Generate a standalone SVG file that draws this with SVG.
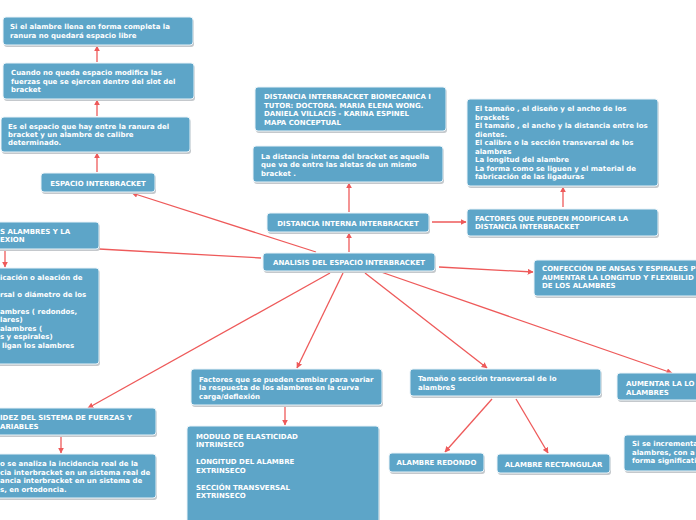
<svg xmlns="http://www.w3.org/2000/svg" width="696" height="520" viewBox="0 0 696 520">
<defs>
<marker id="ah" viewBox="0 0 10 10" refX="9" refY="5" markerWidth="6" markerHeight="6" orient="auto" markerUnits="userSpaceOnUse">
<path d="M0,0 L10,5 L0,10 z" fill="#ee5a5a"/>
</marker>
<style>
.bx{fill:#5da5c8;stroke:#eaf3f8;stroke-width:1}
.sh{fill:#c4c8cc}
text{font-family:"DejaVu Sans","Verdana",sans-serif;font-weight:bold;font-size:7px;fill:#ffffff}
.c{text-anchor:middle}
.ln{stroke:#ee5a5a;stroke-width:1.3;fill:none}
</style>
</defs>
<rect width="696" height="520" fill="#ffffff"/>

<g id="connectors">
<line class="ln" x1="97" y1="62" x2="97" y2="46" marker-end="url(#ah)"/>
<line class="ln" x1="97" y1="116" x2="97" y2="100" marker-end="url(#ah)"/>
<line class="ln" x1="97" y1="172" x2="97" y2="153" marker-end="url(#ah)"/>
<line class="ln" x1="316" y1="252" x2="132" y2="193" marker-end="url(#ah)"/>
<line class="ln" x1="261" y1="258" x2="99" y2="249"/>
<line class="ln" x1="5" y1="250" x2="5" y2="267" marker-end="url(#ah)"/>
<line class="ln" x1="330" y1="273" x2="88" y2="408" marker-end="url(#ah)"/>
<line class="ln" x1="61" y1="436" x2="61" y2="453" marker-end="url(#ah)"/>
<line class="ln" x1="343" y1="273" x2="297" y2="368" marker-end="url(#ah)"/>
<line class="ln" x1="285" y1="407" x2="285" y2="425" marker-end="url(#ah)"/>
<line class="ln" x1="365" y1="273" x2="487" y2="368" marker-end="url(#ah)"/>
<line class="ln" x1="381" y1="272" x2="672" y2="373" marker-end="url(#ah)"/>
<line class="ln" x1="492" y1="399" x2="445" y2="452" marker-end="url(#ah)"/>
<line class="ln" x1="516" y1="399" x2="548" y2="453" marker-end="url(#ah)"/>
<line class="ln" x1="439" y1="267" x2="533" y2="272" marker-end="url(#ah)"/>
<line class="ln" x1="349" y1="252" x2="349" y2="233" marker-end="url(#ah)"/>
<line class="ln" x1="349" y1="212" x2="349" y2="183" marker-end="url(#ah)"/>
<line class="ln" x1="432" y1="222" x2="466" y2="222" marker-end="url(#ah)"/>
<line class="ln" x1="563" y1="207" x2="563" y2="187" marker-end="url(#ah)"/>
</g>

<g id="n1">
<rect class="sh" x="4" y="19" width="190" height="28" rx="3"/>
<rect class="bx" x="3" y="17" width="190" height="28" rx="3"/>
<text x="10" y="29">Si el alambre llena en forma completa la</text>
<text x="10" y="38">ranura no quedará espacio libre</text>
</g>

<g id="n2">
<rect class="sh" x="4" y="65" width="191" height="36" rx="3"/>
<rect class="bx" x="3" y="63" width="191" height="36" rx="3"/>
<text x="11" y="75">Cuando no queda espacio modifica las</text>
<text x="11" y="84">fuerzas que se ejercen dentro del slot del</text>
<text x="11" y="92">bracket</text>
</g>

<g id="n3">
<rect class="sh" x="2" y="119" width="189" height="35" rx="3"/>
<rect class="bx" x="1" y="117" width="189" height="35" rx="3"/>
<text x="8" y="129">Es el espacio que hay entre la ranura del</text>
<text x="8" y="137">bracket y un alambre de calibre</text>
<text x="8" y="145">determinado.</text>
</g>

<g id="n4">
<rect class="sh" x="42" y="175" width="114" height="19" rx="3"/>
<rect class="bx" x="41" y="173" width="114" height="19" rx="3"/>
<text class="c" x="98" y="185.5">ESPACIO INTERBRACKET</text>
</g>

<g id="n5">
<rect class="sh" x="-9" y="224" width="109" height="27" rx="3"/>
<rect class="bx" x="-10" y="222" width="109" height="27" rx="3"/>
<text x="0" y="233.5">S ALAMBRES Y LA</text>
<text x="0" y="242">EXION</text>
</g>

<g id="n6">
<rect class="sh" x="-9" y="270" width="109" height="96" rx="3"/>
<rect class="bx" x="-10" y="268" width="109" height="96" rx="3"/>
<text x="0" y="280">icación o aleación de</text>
<text x="0" y="297">rsal o diámetro de los</text>
<text x="0" y="314">ambres ( redondos,</text>
<text x="0" y="322">lares)</text>
<text x="0" y="331">alambres (</text>
<text x="0" y="339">s y espirales)</text>
<text x="2" y="348">ligan los alambres</text>
</g>

<g id="n7">
<rect class="sh" x="-9" y="410" width="166" height="27" rx="3"/>
<rect class="bx" x="-10" y="408" width="166" height="27" rx="3"/>
<text x="0" y="420">IDEZ DEL SISTEMA DE FUERZAS Y</text>
<text x="0" y="428.5">ARIABLES</text>
</g>

<g id="n8">
<rect class="sh" x="-9" y="456" width="166" height="44" rx="3"/>
<rect class="bx" x="-10" y="454" width="166" height="44" rx="3"/>
<text x="0" y="466">o se analiza la incidencia real de la</text>
<text x="0" y="474.5">cia interbracket en un sistema real de</text>
<text x="0" y="483">ancia interbracket en un sistema de</text>
<text x="0" y="491.5">s, en ortodoncia.</text>
</g>

<g id="n9">
<rect class="sh" x="256" y="89" width="191" height="44" rx="3"/>
<rect class="bx" x="255" y="87" width="191" height="44" rx="3"/>
<text x="264" y="99">DISTANCIA INTERBRACKET BIOMECANICA I</text>
<text x="264" y="107.5">TUTOR: DOCTORA. MARIA ELENA WONG.</text>
<text x="264" y="116">DANIELA VILLACIS - KARINA ESPINEL</text>
<text x="264" y="124.5">MAPA CONCEPTUAL</text>
</g>

<g id="n10">
<rect class="sh" x="254" y="148" width="190" height="36" rx="3"/>
<rect class="bx" x="253" y="146" width="190" height="36" rx="3"/>
<text x="261" y="158.5">La distancia interna del bracket es aquella</text>
<text x="261" y="167">que va de entre las aletas de un mismo</text>
<text x="261" y="175.5">bracket .</text>
</g>

<g id="n11">
<rect class="sh" x="468" y="101" width="191" height="87" rx="3"/>
<rect class="bx" x="467" y="99" width="191" height="87" rx="3"/>
<text x="475" y="111">El tamaño , el diseño y el ancho de los</text>
<text x="475" y="119.5">brackets</text>
<text x="475" y="128">El tamaño , el ancho y la distancia entre los</text>
<text x="475" y="136.5">dientes.</text>
<text x="475" y="145">El calibre o la sección transversal de los</text>
<text x="475" y="153.5">alambres</text>
<text x="475" y="162">La longitud del alambre</text>
<text x="475" y="170.5">La forma como se liguen y el material de</text>
<text x="475" y="179">fabricación de las ligaduras</text>
</g>

<g id="n12">
<rect class="sh" x="268" y="215" width="162" height="19" rx="3"/>
<rect class="bx" x="267" y="213" width="162" height="19" rx="3"/>
<text class="c" x="348" y="225.5">DISTANCIA INTERNA INTERBRACKET</text>
</g>

<g id="n13">
<rect class="sh" x="468" y="211" width="191" height="27" rx="3"/>
<rect class="bx" x="467" y="209" width="191" height="27" rx="3"/>
<text x="475" y="220.5">FACTORES QUE PUEDEN MODIFICAR LA</text>
<text x="475" y="229">DISTANCIA INTERBRACKET</text>
</g>

<g id="n14">
<rect class="sh" x="264" y="255" width="172" height="18" rx="3"/>
<rect class="bx" x="263" y="253" width="172" height="18" rx="3"/>
<text class="c" x="349" y="264.5">ANALISIS DEL ESPACIO INTERBRACKET</text>
</g>

<g id="n15">
<rect class="sh" x="535" y="262" width="170" height="36" rx="3"/>
<rect class="bx" x="534" y="260" width="170" height="36" rx="3"/>
<text x="542" y="271">CONFECCIÓN DE ANSAS Y ESPIRALES P</text>
<text x="542" y="279.5">AUMENTAR LA LONGITUD Y FLEXIBILID</text>
<text x="542" y="288">DE LOS ALAMBRES</text>
</g>

<g id="n16">
<rect class="sh" x="192" y="371" width="191" height="36" rx="3"/>
<rect class="bx" x="191" y="369" width="191" height="36" rx="3"/>
<text x="199" y="381.5">Factores que se pueden cambiar para variar</text>
<text x="199" y="390">la respuesta de los alambres en la curva</text>
<text x="199" y="398.5">carga/deflexión</text>
</g>

<g id="n17">
<rect class="sh" x="188" y="428" width="192" height="100" rx="3"/>
<rect class="bx" x="187" y="426" width="192" height="100" rx="3"/>
<text x="196" y="439">MODULO DE ELASTICIDAD</text>
<text x="196" y="447">INTRINSECO</text>
<text x="196" y="464">LONGITUD DEL ALAMBRE</text>
<text x="196" y="472.5">EXTRINSECO</text>
<text x="196" y="490">SECCIÓN TRANSVERSAL</text>
<text x="196" y="498">EXTRINSECO</text>
</g>

<g id="n18">
<rect class="sh" x="411" y="371" width="191" height="27" rx="3"/>
<rect class="bx" x="410" y="369" width="191" height="27" rx="3"/>
<text x="418" y="381">Tamaño o sección transversal de lo</text>
<text x="418" y="390">alambreS</text>
</g>

<g id="n19">
<rect class="sh" x="390" y="455" width="95" height="19" rx="3"/>
<rect class="bx" x="389" y="453" width="95" height="19" rx="3"/>
<text class="c" x="436.5" y="465">ALAMBRE REDONDO</text>
</g>

<g id="n20">
<rect class="sh" x="498" y="456" width="113" height="19" rx="3"/>
<rect class="bx" x="497" y="454" width="113" height="19" rx="3"/>
<text class="c" x="553.5" y="466.5">ALAMBRE RECTANGULAR</text>
</g>

<g id="n21">
<rect class="sh" x="618" y="375" width="90" height="27" rx="3"/>
<rect class="bx" x="617" y="373" width="90" height="27" rx="3"/>
<text x="626" y="386">AUMENTAR LA LO</text>
<text x="626" y="394.5">ALAMBRES</text>
</g>

<g id="n22">
<rect class="sh" x="625" y="437" width="90" height="36" rx="3"/>
<rect class="bx" x="624" y="435" width="90" height="36" rx="3"/>
<text x="632" y="446">Si se incrementa</text>
<text x="632" y="454.5">alambres, con a</text>
<text x="632" y="463">forma significati</text>
</g>
</svg>
